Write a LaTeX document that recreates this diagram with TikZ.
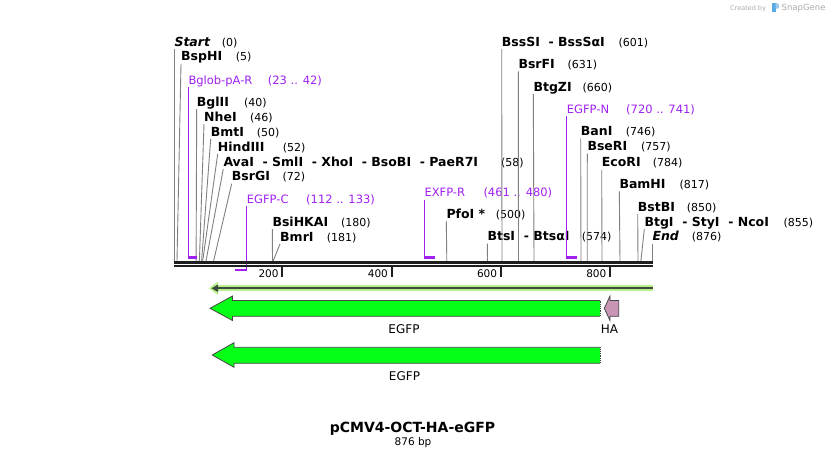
\documentclass[tikz,border=0pt]{standalone}
\usepackage{fontspec}
\setmainfont{DejaVu Sans}
\definecolor{sitegray}{RGB}{128,128,128}
\definecolor{primpurple}{RGB}{160,32,240}
\definecolor{egfpgreen}{RGB}{5,255,22}
\definecolor{hamauve}{RGB}{200,150,180}
\definecolor{dirlight}{RGB}{185,240,140}
\definecolor{dirdark}{RGB}{60,75,60}
\definecolor{rulercol}{RGB}{30,30,30}
\definecolor{featborder}{RGB}{70,70,70}
\definecolor{wmgray}{RGB}{170,170,170}
\definecolor{wmblue}{RGB}{90,170,230}
\newcommand{\esep}{\ \ -\ }
\begin{document}
\begin{tikzpicture}[x=1pt,y=-1pt,
  enz/.style={anchor=base west,inner sep=0pt,font=\fontsize{12.5}{14}\selectfont\bfseries},
  enzit/.style={enz,font=\fontsize{12.5}{14}\selectfont\bfseries\itshape},
  num/.style={anchor=base west,inner sep=0pt,font=\fontsize{11}{13}\selectfont},
  prim/.style={anchor=base west,inner sep=0pt,font=\fontsize{11.5}{13}\selectfont,text=primpurple},
  siteline/.style={draw=sitegray,line width=0.9pt},
  primline/.style={draw=primpurple,line width=1.3pt},
  bracket/.style={draw=primpurple,line width=2.4pt},
  tick/.style={draw=rulercol,line width=1.8pt},
  ticklab/.style={anchor=base east,inner sep=0pt,font=\fontsize{10.5}{12}\selectfont},
  feat/.style={draw=featborder,line width=0.8pt},
  featlab/.style={inner sep=0pt,font=\fontsize{12}{14}\selectfont}]
\useasboundingbox (0,0) rectangle (827,458);

% ---------- watermark ----------
\node[anchor=base west,inner sep=0pt,text=wmgray,font=\fontsize{6.5}{8}\selectfont] (wm1) at (730,10) {Created by};
\fill[wmblue] (772,2.5) rectangle (775.5,12);
\fill[wmblue!60] (775.5,2.5) -- (779,4.5) -- (779,8) -- (775.5,9) -- cycle;
\node[anchor=base west,inner sep=0pt,text=wmgray,font=\fontsize{8.5}{10}\selectfont] (wm2) at (781.5,10.5) {SnapGene};

% ---------- site coordinates on the ruler ----------
\coordinate (s0) at (174.3,261);
\coordinate (s5) at (177.0,261);
\coordinate (s40) at (196.1,261);
\coordinate (s46) at (199.4,261);
\coordinate (s50) at (201.6,261);
\coordinate (s52) at (202.7,261);
\coordinate (s58) at (206.0,261);
\coordinate (s72) at (213.6,261);
\coordinate (s180) at (272.5,261);
\coordinate (s181) at (273.1,261);
\coordinate (s500) at (446.8,261);
\coordinate (s574) at (487.5,261);
\coordinate (s601) at (502.0,261);
\coordinate (s631) at (518.5,261);
\coordinate (s660) at (534.0,261);
\coordinate (s746) at (581.0,261);
\coordinate (s757) at (587.2,261);
\coordinate (s784) at (602.0,261);
\coordinate (s817) at (620.0,261);
\coordinate (s850) at (638.0,261);
\coordinate (s855) at (640.9,261);
\coordinate (s876) at (652.3,261);

% ---------- labels, left group ----------
\node[enzit] (start) at (174.3,46) {Start};
\node[num] (nstart) at (221.7,46) {(0)};
\node[enz] (bsphi) at (181,60.7) {BspHI};
\node[num] (nbsphi) at (235.7,60.7) {(5)};
\node[prim] (bglob) at (188.3,84) {Bglob-pA-R};
\node[prim] (nbglob) at (267.7,84) {(23 .. 42)};
\node[enz] (bglii) at (196.7,106) {BglII};
\node[num] (nbglii) at (244,106) {(40)};
\node[enz] (nhei) at (204,121) {NheI};
\node[num] (nnhei) at (250,121) {(46)};
\node[enz] (bmti) at (210.7,136) {BmtI};
\node[num] (nbmti) at (256.7,136) {(50)};
\node[enz] (hind) at (217.7,151) {HindIII};
\node[num] (nhind) at (282.7,151) {(52)};
\node[enz] (avai) at (223.3,166) {AvaI\esep SmlI\esep XhoI\esep BsoBI\esep PaeR7I};
\node[num] (navai) at (501,166) {(58)};
\node[enz] (bsrgi) at (231.7,180.7) {BsrGI};
\node[num] (nbsrgi) at (282.3,180.7) {(72)};
\node[prim] (egfpc) at (246.7,203) {EGFP-C};
\node[prim] (negfpc) at (306,203) {(112 .. 133)};
\node[enz] (bsihk) at (272.3,226) {BsiHKAI};
\node[num] (nbsihk) at (341,226) {(180)};
\node[enz] (bmri) at (280,241) {BmrI};
\node[num] (nbmri) at (326.7,241) {(181)};

% ---------- labels, middle group ----------
\node[prim] (exfpr) at (424.3,196.5) {EXFP-R};
\node[prim] (nexfpr) at (483.3,196.5) {(461 .. 480)};
\node[enz] (pfoi) at (446.3,218.3) {PfoI *};
\node[num] (npfoi) at (495.7,218.3) {(500)};
\node[enz] (btsi) at (487.3,240.7) {BtsI\esep BtsαI};
\node[num] (nbtsi) at (581.7,240.7) {(574)};

% ---------- labels, right group ----------
\node[enz] (bsssi) at (501.7,46) {BssSI\esep BssSαI};
\node[num] (nbsssi) at (618.3,46) {(601)};
\node[enz] (bsrfi) at (518.3,68.3) {BsrFI};
\node[num] (nbsrfi) at (567.3,68.3) {(631)};
\node[enz] (btgzi) at (533.3,91) {BtgZI};
\node[num] (nbtgzi) at (582.3,91) {(660)};
\node[prim] (egfpn) at (566.7,113) {EGFP-N};
\node[prim] (negfpn) at (626,113) {(720 .. 741)};
\node[enz] (bani) at (580.7,135.3) {BanI};
\node[num] (nbani) at (625.7,135.3) {(746)};
\node[enz] (bseri) at (587.3,150.7) {BseRI};
\node[num] (nbseri) at (641,150.7) {(757)};
\node[enz] (ecori) at (601.7,166.5) {EcoRI};
\node[num] (necori) at (652.7,166.5) {(784)};
\node[enz] (bamhi) at (619.3,188.3) {BamHI};
\node[num] (nbamhi) at (679.3,188.3) {(817)};
\node[enz] (bstbi) at (637.7,211) {BstBI};
\node[num] (nbstbi) at (686.7,211) {(850)};
\node[enz] (btgi) at (644.3,226) {BtgI\esep StyI\esep NcoI};
\node[num] (nbtgi) at (783.3,226) {(855)};
\node[enzit] (endl) at (652.3,240.7) {End};
\node[num] (nendl) at (691.7,240.7) {(876)};

% ---------- site lines ----------
\foreach \lab/\site in {start/s0,bsphi/s5,bglii/s40,nhei/s46,bmti/s50,hind/s52,avai/s58,bsrgi/s72,bsihk/s180,bmri/s181,pfoi/s500,btsi/s574,bsssi/s601,bsrfi/s631,btgzi/s660,bani/s746,bseri/s757,ecori/s784,bamhi/s817,bstbi/s850,btgi/s855,endl/s876}
  \draw[siteline] ([yshift=-3pt]\lab.base west) -- (\site);

% ---------- primer markers ----------
\coordinate (pb1) at (188.3,257.5);
\coordinate (pb2) at (197,257.5);
\draw[primline] ([yshift=-3pt]bglob.base west) -- (pb1);
\draw[bracket] ([xshift=-0.6pt]pb1) -- (pb2);
\coordinate (pc1) at (246.7,270);
\coordinate (pc2) at (235,270);
\draw[primline] ([yshift=-3pt]egfpc.base west) -- (pc1);
\draw[bracket] ([xshift=0.6pt]pc1) -- (pc2);
\coordinate (pr1) at (424.3,257.5);
\coordinate (pr2) at (435,257.5);
\draw[primline] ([yshift=-3pt]exfpr.base west) -- (pr1);
\draw[bracket] ([xshift=-0.6pt]pr1) -- (pr2);
\coordinate (pn1) at (566.7,257.5);
\coordinate (pn2) at (577,257.5);
\draw[primline] ([yshift=-3pt]egfpn.base west) -- (pn1);
\draw[bracket] ([xshift=-0.6pt]pn1) -- (pn2);

% ---------- ruler ----------
\draw[rulercol,line width=3pt] (174,262.5) -- (653,262.5);
\draw[rulercol,line width=2pt] (174,266.3) -- (653,266.3);
\foreach \tx/\tl in {282.3/200,391.6/400,500.8/600,610/800}{
  \draw[tick] (\tx,266) -- (\tx,276.5);
  \node[ticklab] (t\tl) at (\tx-3.5,277.7) {\tl};
}

% ---------- direction bar ----------
\draw[dirlight,line width=6pt] (653,288.3) -- (216,288.3);
\fill[dirlight] (209,288.3) -- (218,281.5) -- (218,295) -- cycle;
\draw[dirdark,line width=1.8pt] (653,288.3) -- (215,288.3);
\fill[dirdark] (211.5,288.3) -- (218,284.5) -- (218,292) -- cycle;

% ---------- features ----------
\fill[egfpgreen] (600,300.5) -- (232.5,300.5) -- (232.5,296) -- (210,308.3) -- (232.5,320.5) -- (232.5,316.3) -- (600,316.3) -- cycle;
\draw[feat] (600,300.5) -- (232.5,300.5) -- (232.5,296) -- (210,308.3) -- (232.5,320.5) -- (232.5,316.3) -- (600,316.3);
\draw[featborder,line width=0.8pt,densely dotted] (600,300.5) -- (600,316.3);
\node[featlab] (egfp1) at (404,329.5) {EGFP};

\filldraw[fill=hamauve,draw=featborder,line width=0.8pt] (618.7,300.5) -- (610,300.5) -- (610,296) -- (604.3,308.3) -- (610,320.5) -- (610,316.3) -- (618.7,316.3) -- cycle;
\node[featlab] (ha) at (609.5,329.5) {HA};

\fill[egfpgreen] (600,347.3) -- (234,347.3) -- (234,342.7) -- (212.3,355) -- (234,367.3) -- (234,363.3) -- (600,363.3) -- cycle;
\draw[feat] (600,347.3) -- (234,347.3) -- (234,342.7) -- (212.3,355) -- (234,367.3) -- (234,363.3) -- (600,363.3);
\draw[featborder,line width=0.8pt,densely dotted] (600,347.3) -- (600,363.3);
\node[featlab] (egfp2) at (404.5,376.3) {EGFP};

% ---------- title ----------
\node[anchor=base,inner sep=0pt,font=\fontsize{14}{16}\selectfont\bfseries] (title) at (412.5,432.3) {pCMV4-OCT-HA-eGFP};
\node[anchor=base,inner sep=0pt,font=\fontsize{10.5}{12}\selectfont] (bp) at (413,445.7) {876 bp};
\end{tikzpicture}
\end{document}
